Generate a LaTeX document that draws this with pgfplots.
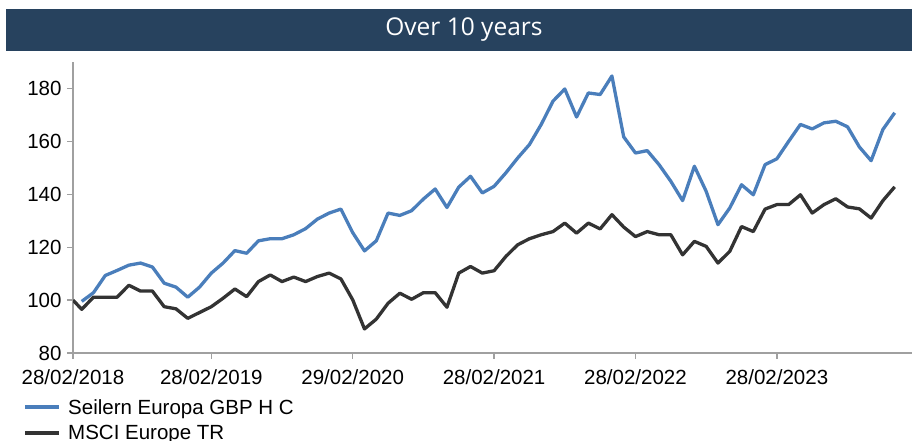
\documentclass[border=0pt]{standalone}
\usepackage{pgfplots}
\pgfplotsset{compat=1.18}
\usepackage{fontspec}
\setmainfont{Liberation Sans}
\newfontfamily\titlefont{Open Sans}
\definecolor{fundblue}{HTML}{4A7EBB}
\definecolor{benchdark}{HTML}{333333}
\definecolor{titlebg}{HTML}{27425E}
\definecolor{axisgray}{HTML}{A0A0A0}
\pgfplotstableread{
x y
0.26 100
1 96.5
2 101.1
3 101.1
4 101.1
5 105.6
6 103.4
7 103.4
8 97.5
9 96.7
10 93.1
11 95.3
12 97.5
13 100.7
14 104.2
15 101.3
16 107
17 109.5
18 107
19 108.7
20 107
21 108.9
22 110.2
23 108
24 100.1
25 89.1
26 92.8
27 98.8
28 102.6
29 100.3
30 102.8
31 102.8
32 97.3
33 110.2
34 112.7
35 110.2
36 111.1
37 116.5
38 120.9
39 123.2
40 124.7
41 125.9
42 129.1
43 125.3
44 129.1
45 126.9
46 132.3
47 127.6
48 124
49 125.9
50 124.7
51 124.7
52 117.1
53 122.2
54 120.3
55 114
56 118.4
57 127.8
58 125.9
59 134.4
60 136.1
61 136.1
62 139.8
63 132.9
64 136.1
65 138.3
66 135.2
67 134.5
68 131
69 137.6
70 142.8
}\bench
\pgfplotstableread{
x y
1 99.5
2 102.8
3 109.3
4 111.2
5 113.2
6 114.0
7 112.5
8 106.4
9 104.9
10 101.1
11 104.9
12 110.2
13 114
14 118.7
15 117.7
16 122.4
17 123.2
18 123.2
19 124.7
20 127
21 130.6
22 132.9
23 134.4
24 125.5
25 118.6
26 122.4
27 132.9
28 132
29 133.8
30 138.2
31 142
32 135
33 142.7
34 146.8
35 140.5
36 143
37 148.1
38 153.7
39 158.8
40 166.4
41 175.2
42 179.8
43 169.2
44 178.3
45 177.7
46 184.7
47 161.7
48 155.6
49 156.5
50 151.2
51 144.9
52 137.6
53 150.6
54 141.1
55 128.5
56 134.8
57 143.6
58 139.8
59 151.2
60 153.4
61 160
62 166.4
63 164.7
64 167
65 167.6
66 165.5
67 157.9
68 152.7
69 164.5
70 170.8
}\fund
\begin{document}
\begin{tikzpicture}[x=1pt,y=1pt]
\useasboundingbox (0,0) rectangle (912,441);
\fill[titlebg] (6,390) rectangle (912,432);
\node[text=white, font=\titlefont\fontsize{24.5}{29}\selectfont] at (464,411) {Over 10 years};
\begin{axis}[
  at={(73pt,88pt)}, anchor=south west,
  width=839pt, height=291pt, scale only axis,
  xmin=0.26, xmax=71.47, ymin=80, ymax=190,
  axis x line=bottom, axis y line=left,
  axis line style={-, draw=axisgray, line width=1.3pt},
  xtick={0.26,12,24,36,48,60},
  xticklabels={28/02/2018,28/02/2019,29/02/2020,28/02/2021,28/02/2022,28/02/2023},
  ytick={80,100,120,140,160,180},
  tick align=outside, major tick length=6pt,
  tick style={draw=axisgray, line width=1.3pt},
  /pgf/number format/assume math mode=true,
  tick label style={font=\fontsize{20.5}{23}\selectfont, text=black},
  xticklabel style={yshift=-7pt},
  yticklabel style={xshift=-2pt},
  legend style={draw=none, fill=none, at={(axis description cs:0,0)}, anchor=north west,
    xshift=-50pt, yshift=-44pt, font=\fontsize{20.5}{24}\selectfont,
    row sep=6pt, inner sep=0pt,
    /tikz/every odd column/.append style={column sep=5pt}},
  legend cell align=left,
  legend image code/.code={\draw[#1, line width=4pt] (0pt,0pt) -- (34pt,0pt);},
]
\addplot[fundblue, line width=3.3pt, line join=round] table[x=x,y=y] {\fund};
\addlegendentry{Seilern Europa GBP H C}
\addplot[benchdark, line width=3.3pt, line join=round] table[x=x,y=y] {\bench};
\addlegendentry{MSCI Europe TR}
\end{axis}
\end{tikzpicture}
\end{document}
